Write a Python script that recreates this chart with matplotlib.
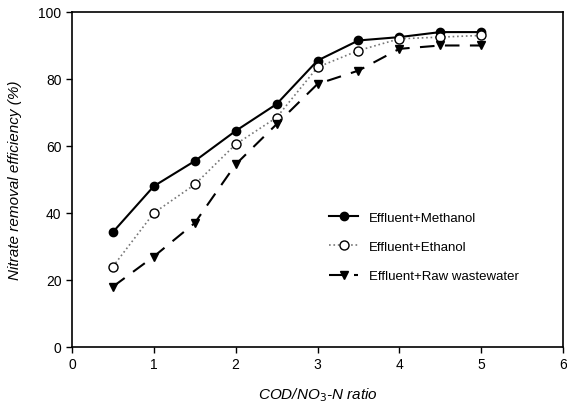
import matplotlib
matplotlib.use("Agg")
import matplotlib.pyplot as plt

plt.rcParams['font.family'] = ['Liberation Sans', 'DejaVu Sans']

ratio = [0.5, 1, 1.5, 2, 2.5, 3, 3.5, 4, 4.5, 5]
methanol = [34.3, 48, 55.5, 64.5, 72.5, 85.5, 91.5, 92.5, 94, 94]
ethanol = [24, 40, 48.5, 60.5, 68.5, 83.5, 88.5, 92, 92.5, 93]
raw = [18, 27, 37, 54.5, 66.5, 78.5, 82.5, 89, 90, 90]
labels = ["Effluent+Methanol", "Effluent+Ethanol", "Effluent+Raw wastewater"]

fig = plt.figure(figsize=(5.67, 4.06), dpi=100)
ax = fig.add_axes([0.127, 0.143, 0.866, 0.825])

ax.plot(ratio, methanol, '-', color='black', marker='o', ms=6, lw=1.5,
        mfc='black', label=labels[0])
ax.plot(ratio, ethanol, ':', color='#777777', marker='o', ms=6.5, lw=1.2,
        mfc='white', mec='black', label=labels[1])
ax.plot(ratio, raw, '--', color='black', marker='v', ms=6, lw=1.5,
        mfc='black', dashes=(7, 5), label=labels[2])

ax.set_xlim(0, 6)
ax.set_ylim(0, 100)
ax.set_xticks(range(0, 7))
ax.set_yticks(range(0, 101, 20))
ax.tick_params(direction='out', length=4, labelsize=10, width=1)
for s in ax.spines.values():
    s.set_linewidth(1.2)

ax.set_xlabel(r"COD/NO$_3$-N ratio", fontsize=11, style='italic', labelpad=10)
ax.set_ylabel("Nitrate removal efficiency (%)", fontsize=11, style='italic', labelpad=12)

leg = ax.legend(loc='upper left', bbox_to_anchor=(0.5, 0.44), frameon=False,
                fontsize=9.5, handlelength=2.2, labelspacing=1.3)

fig.savefig("out.png", dpi=100)
